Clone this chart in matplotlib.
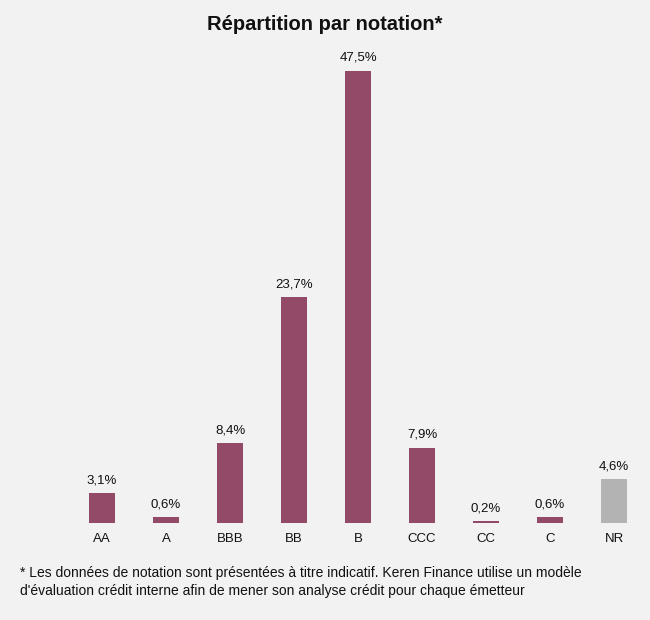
import matplotlib.pyplot as plt

plt.rcParams['font.family'] = ['Liberation Sans', 'DejaVu Sans']

# data
ratings = ["AA", "A", "BBB", "BB", "B", "CCC", "CC", "C", "NR"]
weights = [3.1, 0.6, 8.4, 23.7, 47.5, 7.9, 0.2, 0.6, 4.6]
labels = ["3,1%", "0,6%", "8,4%", "23,7%", "47,5%", "7,9%", "0,2%", "0,6%", "4,6%"]

bg = "#f2f2f2"
main_color = "#934a68"
nr_color = "#b3b3b3"
colors = [nr_color if r == "NR" else main_color for r in ratings]

fig = plt.figure(figsize=(6.5, 6.2), dpi=100, facecolor=bg)
W, H = 650, 620

# axes placed in pixel coordinates
left, right, top, bottom = 70, 646, 60, 523
ax = fig.add_axes([left / W, 1 - bottom / H, (right - left) / W, (bottom - top) / H])
ax.set_facecolor(bg)

x = range(len(ratings))
bars = ax.bar(x, weights, width=0.41, color=colors)

for xi, w, lab in zip(x, weights, labels):
    ax.annotate(lab, (xi, w), xytext=(0, 5), textcoords="offset points",
                ha="center", va="bottom", fontsize=9.5, color="#111111")

ax.set_xlim(-0.5, len(ratings) - 0.5)
ax.set_ylim(0, (bottom - top) / 9.52)
ax.set_xticks(list(x))
ax.set_xticklabels(ratings, fontsize=9.5, color="#111111")
ax.tick_params(axis="x", length=0, pad=7.5)
ax.set_yticks([])
for s in ax.spines.values():
    s.set_visible(False)

fig.text(0.5, 1 - 25 / H, "Répartition par notation*", ha="center", va="center",
         fontsize=14.5, fontweight="bold", color="#111111")

fig.text(20 / W, 1 - 582 / H,
         "* Les données de notation sont présentées à titre indicatif. Keren Finance utilise un modèle\n"
         "d'évaluation crédit interne afin de mener son analyse crédit pour chaque émetteur",
         ha="left", va="center", fontsize=10, color="#111111", linespacing=1.35)

fig.savefig("out.png", dpi=100, facecolor=bg)
